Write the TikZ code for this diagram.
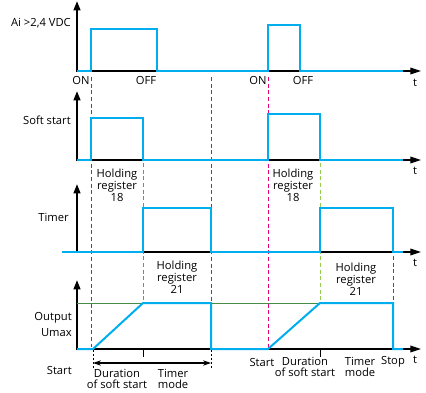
\documentclass[tikz,border=0pt]{standalone}
\usepackage{fontspec}
\setmainfont{Open Sans}
\usetikzlibrary{arrows.meta}
\definecolor{sigblue}{RGB}{0,174,239}
\definecolor{magdash}{RGB}{230,0,126}
\definecolor{slatedash}{RGB}{110,130,200}
\definecolor{greendash}{RGB}{150,205,80}
\definecolor{umaxgreen}{RGB}{70,140,70}
\begin{document}
\begin{tikzpicture}[x=0.75pt,y=-0.75pt,
  font=\fontsize{8.4}{7.6}\selectfont,
  txt/.style={inner sep=0pt, align=center},
  vaxis/.style={black, line width=1.5pt, -{Triangle[length=7pt,width=5pt]}},
  haxis/.style={black, line width=0.9pt, -{Triangle[length=8pt,width=5pt]}},
  sig/.style={draw=sigblue, line width=1.5pt, line join=miter},
  magd/.style={draw=magdash, line width=0.6pt, dash pattern=on 3pt off 2pt},
  slated/.style={draw=slatedash, line width=0.6pt, dash pattern=on 3pt off 2pt},
  greend/.style={draw=greendash, line width=0.6pt, dash pattern=on 3pt off 2pt},
  dotk/.style={draw=black, line width=0.6pt, dash pattern=on 1.5pt off 1.5pt},
  tick/.style={draw=black, line width=0.7pt}
]
\useasboundingbox (0,0) rectangle (426,393);

% dashed guide lines
\draw[magd] (91,77) -- (91,347);
\draw[magd] (211,77) -- (211,303);
\draw[magd] (268,77) -- (268,349);
\draw[magd] (393,256) -- (393,303);
\draw[slated] (143,163) -- (143,303);
\draw[greend] (320,163) -- (320,303);

% ---------- panel 1 ----------
\draw[vaxis] (77,72) -- (77,1);
\draw[haxis] (77,71) -- (421,71);
\draw[sig] (77,71) -- (91,71) -- (91,29) -- (157,29) -- (157,71) -- (268,71)
  -- (268,25) -- (300,25) -- (300,71) -- (403,71);
\node[txt, anchor=east] (ai) at (71,23) {Ai >2,4 VDC};
\node[txt] (on1) at (81,80) {ON};
\node[txt] (off1) at (146,80) {OFF};
\node[txt] (on2) at (258,80) {ON};
\node[txt] (off2) at (303,80) {OFF};
\node[txt] (t1) at (415,83) {t};

% ---------- panel 2 ----------
\draw[vaxis] (77,161) -- (77,91);
\draw[haxis] (77,160) -- (421,160);
\draw[sig] (77,160) -- (91,160) -- (91,118) -- (143,118) -- (143,160) -- (268,160)
  -- (268,114) -- (320,114) -- (320,160) -- (403,160);
\node[txt, anchor=east] (ss) at (71,120) {Soft start};
\node[txt] (t2) at (415,171) {t};
\node[txt] (hr18a) at (117,185) {Holding\\register\\18};
\node[txt] (hr18b) at (293,185) {Holding\\register\\18};

% ---------- panel 3 ----------
\draw[vaxis] (77,253) -- (77,184);
\draw[haxis] (77,252) -- (421,252);
\draw[sig] (62,252) -- (143,252) -- (143,208) -- (211,208) -- (211,252) -- (320,252)
  -- (320,208) -- (393,208) -- (393,252) -- (403,252);
\node[txt, anchor=east] (tm) at (69,217) {Timer};
\node[txt] (t3) at (415,263) {t};
\node[txt] (hr21a) at (177,277) {Holding\\register\\21};
\node[txt] (hr21b) at (356,279) {Holding\\register\\21};

% ---------- panel 4 ----------
\draw[vaxis] (77,350) -- (77,280);
\draw[draw=umaxgreen, line width=0.6pt] (77,303) -- (393,303);
\draw[haxis] (77,349) -- (421,349);
\draw[sig] (77,349) -- (93,349) -- (143,303) -- (211,303) -- (211,349) -- (268,349)
  -- (320,303) -- (393,303) -- (393,349) -- (403,349);
\node[txt, anchor=east] (out) at (72,318) {Output};
\node[txt, anchor=east] (umax) at (72,333) {Umax};
\node[txt, anchor=east] (st1) at (72,370) {Start};
\draw[tick] (143,349) -- (143,357);
\draw[tick] (320,349) -- (320,357);
\coordinate (da) at (93,363);
\coordinate (db) at (211,363);
\draw[dotk] (93,350) -- (93,368);
\draw[dotk] (211,350) -- (211,368);
\draw[black, line width=0.8pt, {Stealth[length=6pt,width=4pt]}-{Stealth[length=6pt,width=4pt]}] (da) -- (db);
\node[txt] (dur1) at (117,379) {Duration\\of soft start};
\node[txt] (tmode1) at (173,379) {Timer\\mode};
\node[txt] (st2) at (262,362) {Start};
\node[txt] (dur2) at (305,367) {Duration\\of soft start};
\node[txt] (tmode2) at (360,367) {Timer\\mode};
\node[txt] (stop) at (393,362) {Stop};
\node[txt] (t4) at (415,360) {t};
\end{tikzpicture}
\end{document}
